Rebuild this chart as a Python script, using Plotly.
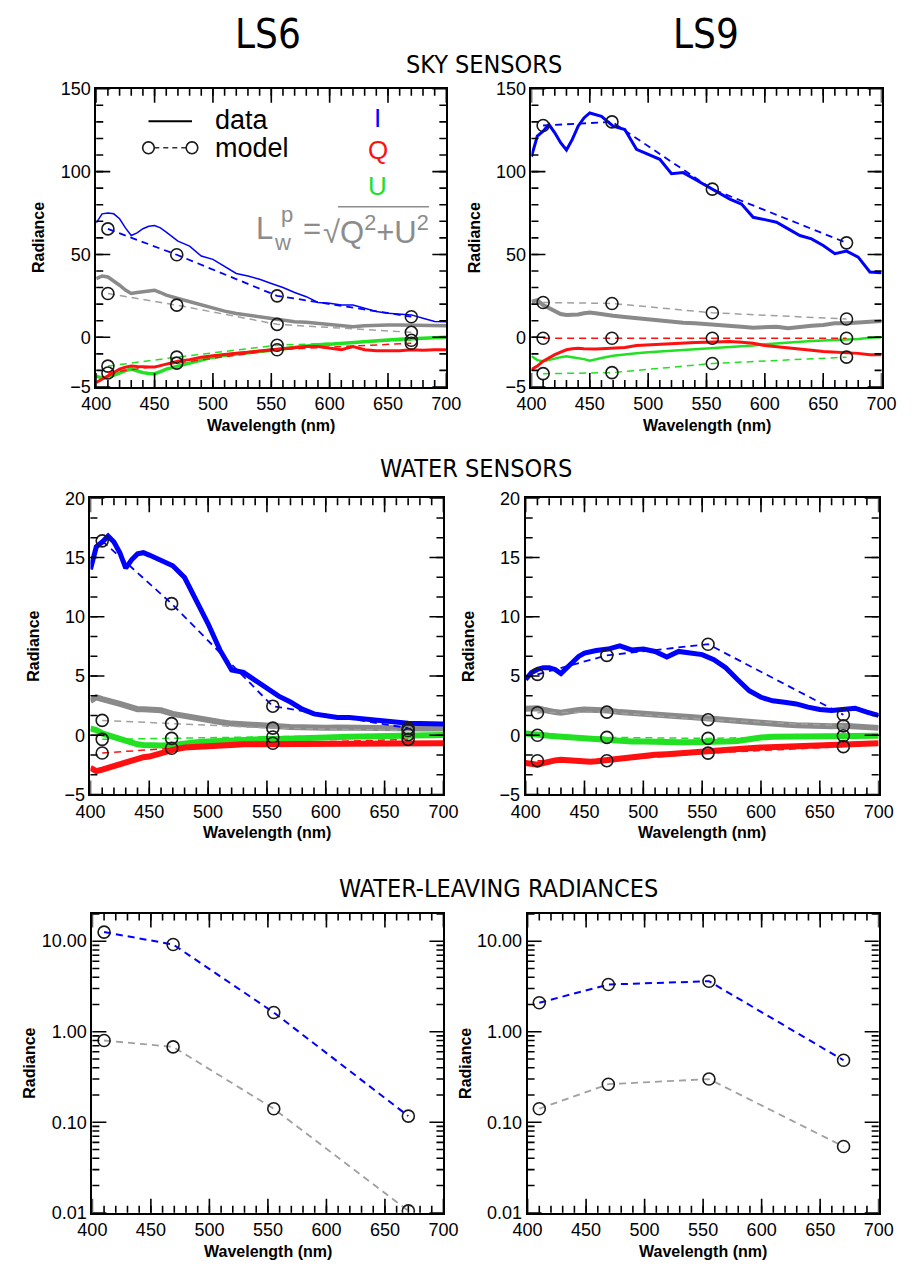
import plotly.graph_objects as go

# ---------------------------------------------------------------------------
# Spectral grid of the measured radiances (nm) and model band centres (nm)
# ---------------------------------------------------------------------------
WL = [400, 405, 410, 415, 420, 425, 430, 435, 440, 445, 450, 455, 460,
      470, 480, 490, 500, 510, 520, 530, 540, 550, 560, 570, 580, 590,
      600, 610, 620, 630, 640, 650, 660, 670, 680, 690, 700]
BANDS = [410, 469, 555, 670]

# ---------------------------- LS6 sky sensors ------------------------------
ls6_sky_I = [69, 74.5, 75, 74.5, 71.5, 66, 61.4, 63, 65.5, 67, 67.4, 66, 63.5,
             58, 55, 49, 47, 43, 38.5, 37, 35, 32.5, 30, 27, 24.5, 21,
             20.5, 19.5, 19.5, 17.5, 15.5, 14.5, 14, 13.5, 11.5, 9.5, 9.4]
ls6_sky_P = [35.4, 37, 36.4, 34, 31.4, 28.5, 26.4, 27, 27.4, 28, 28.4, 27, 25.4,
             23.4, 21.4, 19.4, 17.4, 15.8, 14.4, 13.4, 12.4, 11.4, 10.4, 9.4, 9.0, 8.4,
             7.8, 7.4, 6.4, 7.0, 7.4, 7.4, 7.4, 7.4, 7.0, 7.0, 7.0]
ls6_sky_Q = [-4.55, -4.2, -3.9, -3.5, -3.2, -3.0, -2.9, -2.95, -3.0, -3.0, -3.0, -2.85, -2.7,
             -2.4, -2.25, -2.0, -1.85, -1.7, -1.6, -1.5, -1.36, -1.26, -1.16, -1.03, -0.93, -0.93,
             -1.1, -1.26, -0.93, -1.26, -1.36, -1.36, -1.36, -1.26, -1.3, -1.26, -1.26]
ls6_sky_U = [-3.9, -4.1, -4.06, -3.8, -3.56, -3.35, -3.2, -3.4, -3.56, -3.65, -3.66, -3.45, -3.2,
             -2.9, -2.6, -2.25, -2.0, -1.8, -1.7, -1.52, -1.43, -1.3, -1.16, -1.03, -0.86, -0.76,
             -0.7, -0.6, -0.5, -0.43, -0.33, -0.27, -0.2, -0.17, -0.1, -0.05, 0.0]
ls6_sky_mod_I = [65.4, 49.8, 25.0, 12.4]
ls6_sky_mod_P = [26.4, 19.4, 7.8, 3.0]
ls6_sky_mod_Q = [-3.6, -2.6, -1.25, -0.6]
ls6_sky_mod_U = [-2.9, -2.0, -0.8, -0.3]

# ---------------------------- LS9 sky sensors ------------------------------
ls9_sky_I = [109, 121.4, 124.4, 128.4, 123.4, 117.4, 113, 119.4, 127.4, 132.4, 135.4, 134.4, 133.4,
             127.4, 125.4, 113.4, 110.4, 107.4, 98.7, 99.4, 95.4, 91.4, 87.4, 83.4, 80.4, 72.4,
             71, 69.4, 65.4, 61.4, 59.4, 55.4, 50.4, 52, 48.4, 39.4, 39]
ls9_sky_P = [21.4, 22.4, 19.4, 17.4, 15.4, 14, 13.4, 13.5, 13.8, 14.5, 15, 14.5, 13.8,
             13, 12.2, 11.4, 10.8, 10, 9.4, 8.8, 8.4, 8, 7.4, 7, 6.4, 5.8,
             6, 6.4, 5.4, 6.4, 7, 7.4, 8.4, 8.4, 9, 9.4, 9.8]
ls9_sky_Q = [-3.24, -2.9, -2.4, -2.05, -1.75, -1.5, -1.26, -1.15, -1.1, -1.15, -1.2, -1.18, -1.16,
             -1.1, -1.03, -0.83, -0.76, -0.7, -0.6, -0.6, -0.53, -0.5, -0.43, -0.43, -0.5, -0.6,
             -0.83, -0.93, -1.03, -1.16, -1.3, -1.43, -1.5, -1.5, -1.62, -1.75, -1.75]
ls9_sky_U = [-1.9, -2.3, -2.4, -2.3, -2.15, -2.0, -1.9, -2.0, -2.08, -2.2, -2.35, -2.25, -2.08,
             -1.85, -1.7, -1.6, -1.5, -1.43, -1.36, -1.3, -1.23, -1.16, -1.1, -1.03, -0.93, -0.83,
             -0.7, -0.6, -0.5, -0.43, -0.37, -0.33, -0.27, -0.27, -0.17, -0.05, 0.0]
ls9_sky_mod_I = [127.8, 130.0, 89.4, 57.0]
ls9_sky_mod_P = [21.0, 20.4, 14.8, 11.0]
ls9_sky_mod_Q = [-0.1, -0.1, -0.1, -0.1]
ls9_sky_mod_U = [-3.66, -3.56, -2.64, -2.0]

# --------------------------- LS6 water sensors -----------------------------
ls6_wat_I = [14.0, 15.9, 16.3, 16.8, 16.3, 15.4, 14.1, 14.8, 15.3, 15.4, 15.2, 15.0, 14.8,
             14.3, 13.3, 11.4, 9.4, 7.2, 5.5, 5.3, 4.6, 3.9, 3.3, 2.8, 2.2, 1.8,
             1.67, 1.5, 1.5, 1.4, 1.35, 1.17, 1.06, 1.0, 0.98, 0.95, 0.95]
ls6_wat_P = [2.9, 3.2, 3.05, 2.95, 2.8, 2.65, 2.5, 2.35, 2.2, 2.2, 2.17, 2.15, 2.1,
             1.8, 1.6, 1.45, 1.25, 1.12, 0.98, 0.9, 0.84, 0.79, 0.73, 0.7, 0.68, 0.62,
             0.62, 0.65, 0.62, 0.6, 0.56, 0.56, 0.56, 0.56, 0.56, 0.56, 0.56]
ls6_wat_Q = [-2.76, -3.03, -2.9, -2.75, -2.62, -2.4, -2.2, -2.05, -1.93, -1.85, -1.8, -1.65, -1.5,
             -1.24, -1.04, -0.96, -0.87, -0.82, -0.82, -0.76, -0.76, -0.76, -0.76, -0.76, -0.73, -0.7,
             -0.68, -0.76, -0.7, -0.68, -0.68, -0.7, -0.7, -0.76, -0.76, -0.76, -0.68]
ls6_wat_U = [0.56, 0.43, 0.15, 0.0, -0.2, -0.37, -0.54, -0.65, -0.77, -0.82, -0.87, -0.87, -0.87,
             -0.82, -0.68, -0.6, -0.54, -0.48, -0.43, -0.4, -0.38, -0.32, -0.32, -0.27, -0.27, -0.2,
             -0.18, -0.16, -0.12, -0.1, -0.1, -0.05, -0.03, -0.03, 0.0, 0.02, 0.02]
ls6_wat_mod_I = [16.4, 11.1, 2.45, 0.6]
ls6_wat_mod_P = [1.25, 0.98, 0.6, 0.4]
ls6_wat_mod_Q = [-1.5, -1.1, -0.68, -0.35]
ls6_wat_mod_U = [-0.35, -0.27, -0.15, 0.05]

# --------------------------- LS9 water sensors -----------------------------
ls9_wat_I = [4.7, 5.3, 5.55, 5.7, 5.7, 5.55, 5.2, 5.7, 6.24, 6.65, 6.93, 7.05, 7.15,
             7.27, 7.54, 7.2, 7.27, 7.07, 6.6, 7.07, 6.98, 6.8, 6.38, 5.7, 4.7, 3.75,
             3.2, 2.9, 2.78, 2.64, 2.37, 2.17, 2.08, 2.17, 2.28, 1.95, 1.67]
ls9_wat_P = [2.23, 2.3, 2.28, 2.15, 2.0, 1.95, 1.9, 2.0, 2.08, 2.12, 2.17, 2.17, 2.17,
             2.08, 1.95, 1.87, 1.73, 1.67, 1.62, 1.6, 1.54, 1.45, 1.4, 1.31, 1.17, 1.06,
             1.04, 0.98, 0.9, 0.84, 0.79, 0.78, 0.76, 0.79, 0.73, 0.62, 0.62]
ls9_wat_Q = [-2.34, -2.45, -2.48, -2.35, -2.2, -2.12, -2.07, -2.12, -2.2, -2.25, -2.26, -2.24, -2.2,
             -2.07, -1.93, -1.79, -1.7, -1.65, -1.6, -1.51, -1.46, -1.37, -1.32, -1.24, -1.15, -1.1,
             -1.04, -1.0, -0.96, -0.92, -0.87, -0.84, -0.82, -0.82, -0.76, -0.76, -0.68]
ls9_wat_U = [0.15, 0.08, 0.0, -0.02, -0.05, -0.08, -0.12, -0.16, -0.2, -0.23, -0.27, -0.3, -0.32,
             -0.4, -0.49, -0.54, -0.54, -0.6, -0.6, -0.6, -0.6, -0.6, -0.63, -0.54, -0.49, -0.32,
             -0.2, -0.12, -0.12, -0.12, -0.1, -0.1, -0.07, -0.05, -0.05, -0.05, -0.05]
ls9_wat_mod_I = [5.13, 6.74, 7.68, 1.73]
ls9_wat_mod_P = [1.9, 1.95, 1.31, 0.79]
ls9_wat_mod_Q = [-2.15, -2.15, -1.51, -0.96]
ls9_wat_mod_U = [0.0, -0.18, -0.27, -0.05]

# ----------------------- Water-leaving radiances (log) ---------------------
ls6_lw_I = [12.6, 9.2, 1.63, 0.117]
ls6_lw_P = [0.80, 0.68, 0.141, 0.0105]
ls9_lw_I = [2.09, 3.32, 3.61, 0.484]
ls9_lw_P = [0.141, 0.263, 0.30, 0.054]

# ---------------------------------------------------------------------------
W, H = 913, 1272
BLUE, RED, GREEN = "#0000ff", "#ff1010", "#22e022"
GREY_DATA, GREY_MOD = "#8a8a8a", "#a0a0a0"
INK = "#000000"
FONT = "Liberation Sans, Arial, Helvetica, sans-serif"
NARROW = "DejaVu Sans Condensed, Liberation Sans Narrow, Arial Narrow, sans-serif"

# Sky panels: the part of the axis below zero is expanded 6x so the
# polarisation components stay legible next to the much larger I spectra.
NEG_STRETCH = 6.0


def sky_scale(vals):
    return [v if v >= 0 else v * NEG_STRETCH for v in vals]


# panel boxes in pixels: (left, right, top, bottom)
PANELS = [
    (84, 446, 80, 383),    # LS6 sky
    (534, 896, 80, 383),   # LS9 sky
    (78, 443, 496, 797),   # LS6 water
    (528, 893, 496, 797),  # LS9 water
    (80, 443, 918, 1222),  # LS6 Lw
    (530, 893, 918, 1222), # LS9 Lw
]


def px(x):
    return x / W


def py(y):
    return 1 - y / H


fig = go.Figure()


def add_data(i, ys, color, width, scale=None):
    vals = scale(ys) if scale else ys
    fig.add_trace(go.Scatter(
        x=WL, y=vals, mode="lines", xaxis=f"x{i}", yaxis=f"y{i}",
        line=dict(color=color, width=width), hoverinfo="skip", showlegend=False))


def add_model(i, ys, color, width=1.8, scale=None):
    vals = scale(ys) if scale else ys
    fig.add_trace(go.Scatter(
        x=BANDS, y=vals, mode="lines+markers", xaxis=f"x{i}", yaxis=f"y{i}",
        line=dict(color=color, width=width, dash="7px,5px"),
        marker=dict(symbol="circle-open", size=12, color="#1a1a1a",
                    line=dict(width=1.6, color="#1a1a1a")),
        hoverinfo="skip", showlegend=False))


# --- sky panels ---
for i, (dI, dP, dQ, dU, mI, mP, mQ, mU, wI, wP, wQ, wU) in enumerate([
        (ls6_sky_I, ls6_sky_P, ls6_sky_Q, ls6_sky_U,
         ls6_sky_mod_I, ls6_sky_mod_P, ls6_sky_mod_Q, ls6_sky_mod_U, 1.5, 3.5, 3, 3.5),
        (ls9_sky_I, ls9_sky_P, ls9_sky_Q, ls9_sky_U,
         ls9_sky_mod_I, ls9_sky_mod_P, ls9_sky_mod_Q, ls9_sky_mod_U, 3, 4, 3, 2.5)], start=1):
    add_data(i, dP, GREY_DATA, wP, sky_scale)
    add_data(i, dU, GREEN, wU, sky_scale)
    add_data(i, dQ, RED, wQ, sky_scale)
    add_data(i, dI, BLUE, wI, sky_scale)
    add_model(i, mP, GREY_MOD, 1.5, sky_scale)
    add_model(i, mU, GREEN, 1.5, sky_scale)
    add_model(i, mQ, RED, 1.5, sky_scale)
    add_model(i, mI, BLUE, 1.8, sky_scale)

# --- water panels ---
for i, (dI, dP, dQ, dU, mI, mP, mQ, mU) in enumerate([
        (ls6_wat_I, ls6_wat_P, ls6_wat_Q, ls6_wat_U,
         ls6_wat_mod_I, ls6_wat_mod_P, ls6_wat_mod_Q, ls6_wat_mod_U),
        (ls9_wat_I, ls9_wat_P, ls9_wat_Q, ls9_wat_U,
         ls9_wat_mod_I, ls9_wat_mod_P, ls9_wat_mod_Q, ls9_wat_mod_U)], start=3):
    add_data(i, dP, GREY_DATA, 6)
    add_data(i, dU, GREEN, 6)
    add_data(i, dQ, RED, 6)
    add_data(i, dI, BLUE, 5)
    add_model(i, mP, GREY_MOD, 1.5)
    add_model(i, mU, GREEN, 1.5)
    add_model(i, mQ, RED, 1.5)
    add_model(i, mI, BLUE, 1.8)

# --- water-leaving radiances ---
for i, (mI, mP) in enumerate([(ls6_lw_I, ls6_lw_P), (ls9_lw_I, ls9_lw_P)], start=5):
    add_model(i, mP, GREY_MOD, 1.8)
    add_model(i, mI, BLUE, 2.0)

# ---------------------------------------------------------------------------
# Axes: labelled frame axes per panel
# ---------------------------------------------------------------------------
layout = dict(
    width=W, height=H, margin=dict(l=0, r=0, t=0, b=0),
    paper_bgcolor="white", plot_bgcolor="white", showlegend=False,
)

X_RANGE = [400, 700]
X_MAJOR = [400, 450, 500, 550, 600, 650, 700]
X_MINOR = list(range(410, 700, 10))

SKY_RANGE = [-5 * NEG_STRETCH, 150]
SKY_MAJOR = [-5 * NEG_STRETCH, 0, 50, 100, 150]
SKY_LABELS = ["\u22125", "0", "50", "100", "150"]
SKY_MINOR = list(range(-20, 150, 10))

WAT_RANGE = [-5, 20]
WAT_MAJOR = [-5, 0, 5, 10, 15, 20]
WAT_LABELS = ["\u22125", "0", "5", "10", "15", "20"]
WAT_MINOR = [k * 5 / 3 for k in range(-2, 12)]

LW_RANGE_LOG = [-2, 1.305]
LW_MAJOR = [0.01, 0.1, 1, 10]
LW_LABELS = ["0.01", "0.10", "1.00", "10.00"]
LW_MINOR = [k * 10 ** e for e in (-2, -1, 0, 1) for k in range(2, 10) if k * 10 ** e <= 20]

tickfont = dict(family=FONT, size=18, color=INK)
frame = dict(showline=True, mirror=True, linecolor="black", linewidth=1.8,
             ticks="", showgrid=False, zeroline=False, tickfont=tickfont)

y_specs = {}
for i, (l, r, t, b) in enumerate(PANELS, start=1):
    layout[f"xaxis{i}"] = dict(frame, domain=[px(l), px(r)], anchor=f"y{i}",
                               range=X_RANGE, tickmode="array", tickvals=X_MAJOR)
    if i <= 2:
        yr, ymaj, ylab, ymin = SKY_RANGE, SKY_MAJOR, SKY_LABELS, SKY_MINOR
        extra, y_lo, y_hi = {}, SKY_RANGE[0], SKY_RANGE[1]
    elif i <= 4:
        yr, ymaj, ylab, ymin = WAT_RANGE, WAT_MAJOR, WAT_LABELS, WAT_MINOR
        extra, y_lo, y_hi = {}, WAT_RANGE[0], WAT_RANGE[1]
    else:
        yr, ymaj, ylab, ymin = LW_RANGE_LOG, LW_MAJOR, LW_LABELS, LW_MINOR
        extra, y_lo, y_hi = dict(type="log"), 10 ** LW_RANGE_LOG[0], 10 ** LW_RANGE_LOG[1]
    layout[f"yaxis{i}"] = dict(frame, domain=[py(b), py(t)], anchor=f"x{i}", range=yr,
                               tickmode="array", tickvals=ymaj, ticktext=ylab, **extra)
    y_specs[i] = (ymaj, ymin, y_lo, y_hi)

# Inward tick marks on all four edges: short line symbols centred on the
# frame, clipped to the plot area so only the inner half shows.
for i, (ymaj, ymin, y_lo, y_hi) in y_specs.items():
    for xs, size in ((X_MAJOR, 20), (X_MINOR, 10)):
        fig.add_trace(go.Scatter(
            x=xs + xs, y=[y_lo] * len(xs) + [y_hi] * len(xs), mode="markers",
            xaxis=f"x{i}", yaxis=f"y{i}", hoverinfo="skip", showlegend=False,
            marker=dict(symbol="line-ns", size=size, color="black",
                        line=dict(width=1.6, color="black"))))
    for ys, size in ((ymaj, 20), (ymin, 10)):
        fig.add_trace(go.Scatter(
            x=[X_RANGE[0]] * len(ys) + [X_RANGE[1]] * len(ys), y=ys + ys, mode="markers",
            xaxis=f"x{i}", yaxis=f"y{i}", hoverinfo="skip", showlegend=False,
            marker=dict(symbol="line-ew", size=size, color="black",
                        line=dict(width=1.6, color="black"))))

fig.update_layout(**layout)

# ---------------------------------------------------------------------------
annotations = []


def text(x, y, s, size, color=INK, family=FONT, xanchor="center", angle=0, bold=False):
    annotations.append(dict(
        x=px(x), y=py(y), xref="paper", yref="paper", text=f"<b>{s}</b>" if bold else s,
        showarrow=False, xanchor=xanchor, yanchor="middle", textangle=angle,
        font=dict(family=family, size=size, color=color)))


text(262, 24, "LS6", 40, family=NARROW)
text(714, 24, "LS9", 40, family=NARROW)
text(485, 55, "SKY SENSORS", 25, family=NARROW)
text(477, 466, "WATER SENSORS", 25, family=NARROW)
text(500, 893, "WATER-LEAVING RADIANCES", 25, family=NARROW)

for (l, r, t, b) in PANELS:
    off = 59 if t < 500 else (50 if t < 900 else 65)
    text(l - off, (t + b) / 2, "Radiance", 16, angle=-90, bold=True)
    text((l + r) / 2, b + 39, "Wavelength (nm)", 16, bold=True)

# legend of line styles
text(205, 112, "data", 27, xanchor="left")
text(205, 140, "model", 27, xanchor="left")
text(375, 110, "I", 26, color=BLUE)
text(375, 142, "Q", 26, color=RED)
text(375, 179, "U", 26, color=GREEN)

# polarised radiance formula
FORM = "#8c8c8c"
text(247, 222, "L", 31, color=FORM, xanchor="left")
text(281, 208, "p", 22, color=FORM)
text(277, 236, "w", 22, color=FORM)
text(296, 222, "=", 31, color=FORM, xanchor="left")
text(316, 224, "\u221aQ<sup>2</sup>+U<sup>2</sup>", 31, color=FORM, xanchor="left")

shapes = [
    dict(type="line", xref="paper", yref="paper", x0=px(138), x1=px(183), y0=py(113), y1=py(113),
         line=dict(color="black", width=2)),
    dict(type="line", xref="paper", yref="paper", x0=px(144), x1=px(177), y0=py(140), y1=py(140),
         line=dict(color="#333333", width=1.6, dash="5px,4px")),
    dict(type="circle", xref="paper", yref="paper", x0=px(132), x1=px(144), y0=py(146), y1=py(134),
         line=dict(color="#1a1a1a", width=1.6)),
    dict(type="circle", xref="paper", yref="paper", x0=px(177), x1=px(189), y0=py(146), y1=py(134),
         line=dict(color="#1a1a1a", width=1.6)),
    dict(type="line", xref="paper", yref="paper", x0=px(334), x1=px(428), y0=py(200), y1=py(200),
         line=dict(color=FORM, width=1.5)),
]

fig.update_layout(annotations=annotations, shapes=shapes)
fig.write_html("out.html")
